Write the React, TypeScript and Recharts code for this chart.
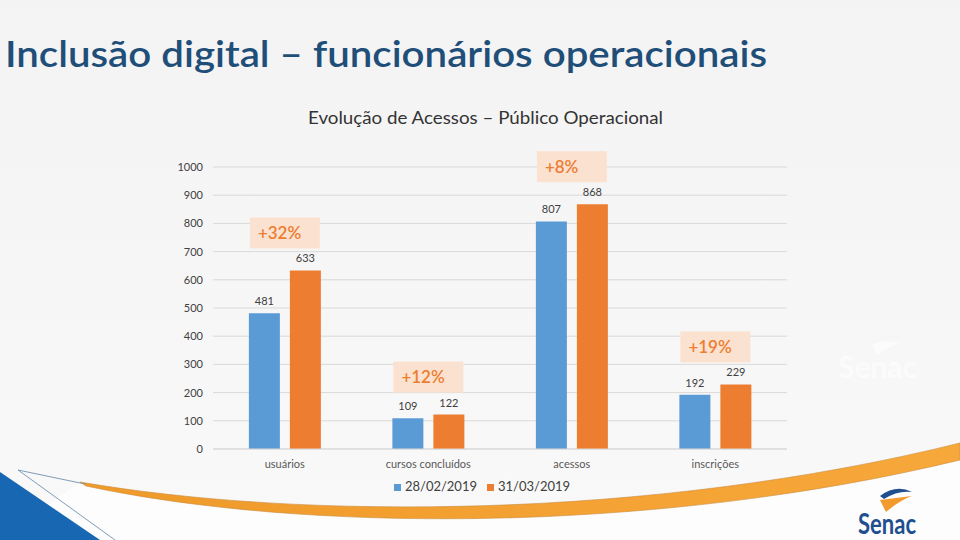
import { BarChart, Bar, XAxis, YAxis, CartesianGrid, Legend, LabelList } from 'recharts';

const categories = ['usuários', 'cursos concluídos', 'acessos', 'inscrições'];
const fev2019 = [481, 109, 807, 192];
const mar2019 = [633, 122, 868, 229];
const growth = ['+32%', '+12%', '+8%', '+19%'];
const yTicks = [0, 100, 200, 300, 400, 500, 600, 700, 800, 900, 1000];

const BLUE = '#5b9bd5';
const ORANGE = '#ed7d31';
const FONT = 'Lato, "Open Sans", sans-serif';
const BAR_GAP = 10;

const data = categories.map((name, i) => ({
  name,
  fev: fev2019[i],
  mar: mar2019[i],
  pct: growth[i],
}));

// peach box with the growth figure, sitting above the pair of bars
function GrowthBox(props: any) {
  const { x, y, width, value } = props;
  if (x == null || y == null) return null;
  const cx = Number(x) + Number(width) / 2 - (Number(width) + BAR_GAP) / 2;
  const w = 70;
  const h = 31;
  const bottom = Number(y) - 22;
  return (
    <g>
      <rect x={cx - w / 2} y={bottom - h} width={w} height={h} fill="#fbe2d0" />
      <text
        x={cx - w / 2 + 8}
        y={bottom - h / 2 + 6}
        fill={ORANGE}
        fontSize={17}
        fontWeight={600}
        fontFamily={FONT}
      >
        {value}
      </text>
    </g>
  );
}

function Decorations() {
  return (
    <svg width={960} height={540} style={{ position: 'absolute', left: 0, top: 0 }}>
      <defs>
        <linearGradient id="bg" x1="0" y1="0" x2="0" y2="1">
          <stop offset="0%" stopColor="#f3f3f3" />
          <stop offset="100%" stopColor="#f9f9f9" />
        </linearGradient>
        <linearGradient id="swoosh" x1="0" y1="0" x2="1" y2="0">
          <stop offset="0%" stopColor="#ef9a2a" />
          <stop offset="100%" stopColor="#f7a83a" />
        </linearGradient>
      </defs>
      <rect x={0} y={0} width={960} height={540} fill="url(#bg)" />
      <path d="M80,482 C300,520 650,520 960,443 L960,540 L0,540 Z" fill="#fdfdfd" />
      <path
        d="M80,482 C300,520 650,520 960,443 L960,460 C650,535 300,532 86,486 Z"
        fill="url(#swoosh)"
        stroke="#c98a3a"
        strokeWidth={0.6}
      />
      <polygon points="0,472 100,540 0,540" fill="#1767b2" />
      <polyline points="85,484 18,470 115,540" fill="none" stroke="#7f9cb6" strokeWidth={1} />
      {/* faint watermark */}
      <text x={838} y={378} fill="#ffffff" fontSize={30} fontWeight={700} fontFamily={FONT} opacity={0.6}>
        Senac
      </text>
      <path d="M872,345 Q888,338 900,344 Q886,346 878,356 Z" fill="#ffffff" opacity={0.6} />
      {/* logo */}
      <path d="M880,496 Q896,484 912,492 Q898,490 884,499 Z" fill="#1f4f8f" />
      <path d="M880,500 L912,496 Q900,500 886,512 Z" fill="#f29a2e" />
      <text x={858} y={534} fill="#1f4f8f" fontSize={28} fontWeight={700} fontFamily={FONT} textLength={58} lengthAdjust="spacingAndGlyphs">
        Senac
      </text>
    </svg>
  );
}

export default function App() {
  return (
    <div style={{ position: 'fixed', left: 0, top: 0, width: 960, height: 540, overflow: 'hidden' }}>
      <Decorations />
      <svg width={960} height={140} style={{ position: 'absolute', left: 0, top: 0 }}>
        <text
          x={5}
          y={67}
          fill="#1f4e79"
          fontSize={37}
          fontWeight={600}
          fontFamily={FONT}
          textLength={762}
          lengthAdjust="spacingAndGlyphs"
        >
          Inclusão digital – funcionários operacionais
        </text>
        <text
          x={308}
          y={124}
          fill="#333333"
          fontSize={17}
          fontFamily={FONT}
          textLength={355}
          lengthAdjust="spacingAndGlyphs"
        >
          Evolução de Acessos – Público Operacional
        </text>
      </svg>
      <div style={{ position: 'absolute', left: 0, top: 0 }}>
        <BarChart
          width={960}
          height={540}
          data={data}
          margin={{ top: 167, right: 173, left: 163, bottom: 45 }}
          barCategoryGap="25%"
          barGap={BAR_GAP}
        >
          <CartesianGrid vertical={false} stroke="#d9d9d9" />
          <XAxis
            dataKey="name"
            height={30}
            tickLine={false}
            axisLine={{ stroke: '#d9d9d9' }}
            tick={{ fontSize: 11, fill: '#595959', fontFamily: FONT }}
            tickMargin={5}
          />
          <YAxis
            width={50}
            domain={[0, 1000]}
            ticks={yTicks}
            interval={0}
            tickLine={false}
            axisLine={false}
            tick={{ fontSize: 11, fill: '#404040', fontFamily: FONT }}
            tickMargin={4}
          />
          <Legend
            iconType="square"
            iconSize={7}
            wrapperStyle={{ top: 478, left: 0, width: 974, fontFamily: FONT, fontSize: 13, color: '#404040' }}
            formatter={(v) => <span style={{ color: '#404040' }}>{v}</span>}
          />
          <Bar dataKey="fev" name="28/02/2019" fill={BLUE} isAnimationActive={false}>
            <LabelList dataKey="fev" position="top" offset={8} fill="#404040" fontSize={11} fontFamily={FONT} />
          </Bar>
          <Bar dataKey="mar" name="31/03/2019" fill={ORANGE} isAnimationActive={false}>
            <LabelList dataKey="mar" position="top" offset={8} fill="#404040" fontSize={11} fontFamily={FONT} />
            <LabelList dataKey="pct" content={GrowthBox} />
          </Bar>
        </BarChart>
      </div>
    </div>
  );
}
